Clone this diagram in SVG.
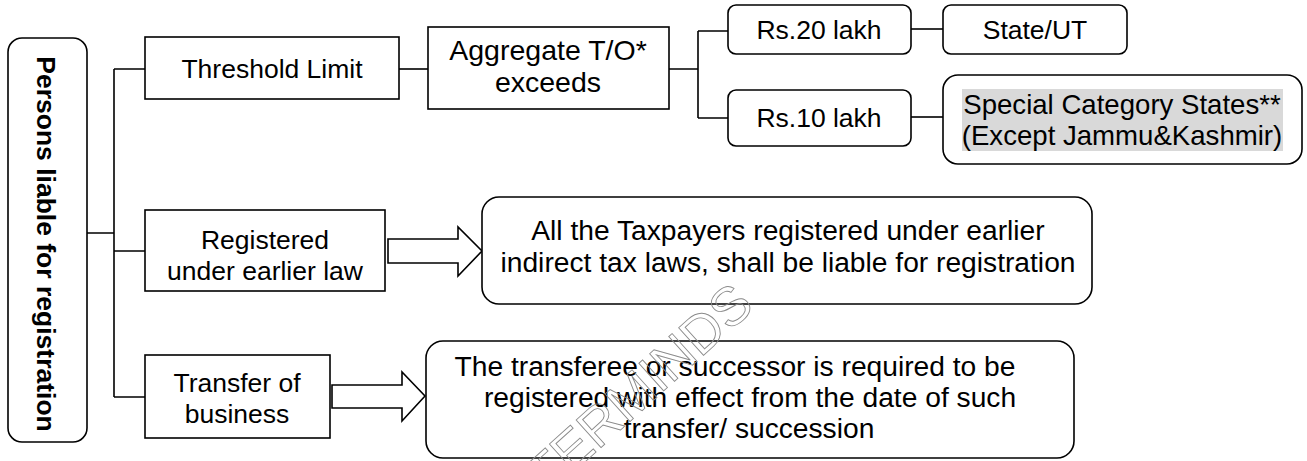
<svg xmlns="http://www.w3.org/2000/svg" width="1307" height="461" viewBox="0 0 1307 461">
<defs>
<style>
.box{fill:#fff;stroke:#000;stroke-width:1.6}
.ln{fill:none;stroke:#000;stroke-width:1.6}
.t{font-family:"Liberation Sans",Arial,sans-serif;font-size:26.5px;fill:#000;text-anchor:middle}
.big{font-size:28.2px}
.wm{font-family:"Liberation Sans",Arial,sans-serif;font-size:54px;fill:none;stroke:#8a8a8a;stroke-width:0.9;text-anchor:end}
</style>
</defs>
<rect width="1307" height="461" fill="#fff"/>
<g id="connectors">
<path class="ln" d="M87,233 H114 M114,69 V397 M114,69 H145 M114,251 H145 M114,397 H145"/>
<path class="ln" d="M399,69 H428"/>
<path class="ln" d="M669,69 H698 M698,31 V118 M698,31 H728 M698,118 H728"/>
<path class="ln" d="M911,29 H943"/>
<path class="ln" d="M911,117 H943"/>
<path class="box" d="M388,239 H458 V227 L482,251 L458,276 V263 H388 Z"/>
<path class="box" d="M332,385 H402 V372 L425,396 L402,421 V408 H332 Z"/>
</g>
<g id="root">
<rect class="box" x="8" y="38" width="79" height="404" rx="14"/>
<text class="t" font-weight="bold" transform="translate(37,244) rotate(90)">Persons liable for registration</text>
</g>
<g id="threshold">
<rect class="box" x="145" y="37" width="254" height="62"/>
<text class="t" x="272" y="78">Threshold Limit</text>
</g>
<g id="aggregate">
<rect class="box" x="428" y="27" width="241" height="82"/>
<text class="t" style="font-size:28.5px" x="548" y="60">Aggregate T/O*</text>
<text class="t" style="font-size:28.5px" x="548" y="92">exceeds</text>
</g>
<g id="rs20">
<rect class="box" x="728" y="5" width="183" height="49" rx="8"/>
<text class="t" x="819" y="39">Rs.20 lakh</text>
</g>
<g id="state">
<rect class="box" x="943" y="5" width="184" height="49" rx="8"/>
<text class="t" x="1035" y="39">State/UT</text>
</g>
<g id="rs10">
<rect class="box" x="728" y="90" width="183" height="56" rx="8"/>
<text class="t" x="819" y="127">Rs.10 lakh</text>
</g>
<g id="special">
<rect class="box" x="943" y="75" width="359" height="89" rx="15"/>
<rect x="962" y="89" width="321" height="62" fill="#d9d9d9"/>
<text class="t" style="font-size:27.6px" x="1122" y="114">Special Category States**</text>
<text class="t" style="font-size:27.6px" x="1122" y="145">(Except Jammu&amp;Kashmir)</text>
</g>
<g id="registered">
<rect class="box" x="145" y="210" width="240" height="81"/>
<text class="t" x="265" y="249">Registered</text>
<text class="t" x="265" y="280">under earlier law</text>
</g>
<g id="all-taxpayers">
<rect class="box" x="482" y="197" width="610" height="107" rx="17"/>
<text class="t big" x="788" y="240">All the Taxpayers registered under earlier</text>
<text class="t big" x="788" y="272">indirect tax laws, shall be liable for registration</text>
</g>
<g id="transfer">
<rect class="box" x="145" y="355" width="185" height="83"/>
<text class="t" x="237" y="392">Transfer of</text>
<text class="t" x="237" y="423">business</text>
</g>
<g id="transferee">
<rect class="box" x="426" y="341" width="648" height="117" rx="17"/>
<text class="t big" x="735" y="376">The transferee or successor is required to be</text>
<text class="t big" x="750" y="407">registered with effect from the date of such</text>
<text class="t big" x="749" y="438">transfer/ succession</text>
</g>
<text class="wm" transform="translate(756,308) rotate(-42)">MASTERMINDS</text>
</svg>
